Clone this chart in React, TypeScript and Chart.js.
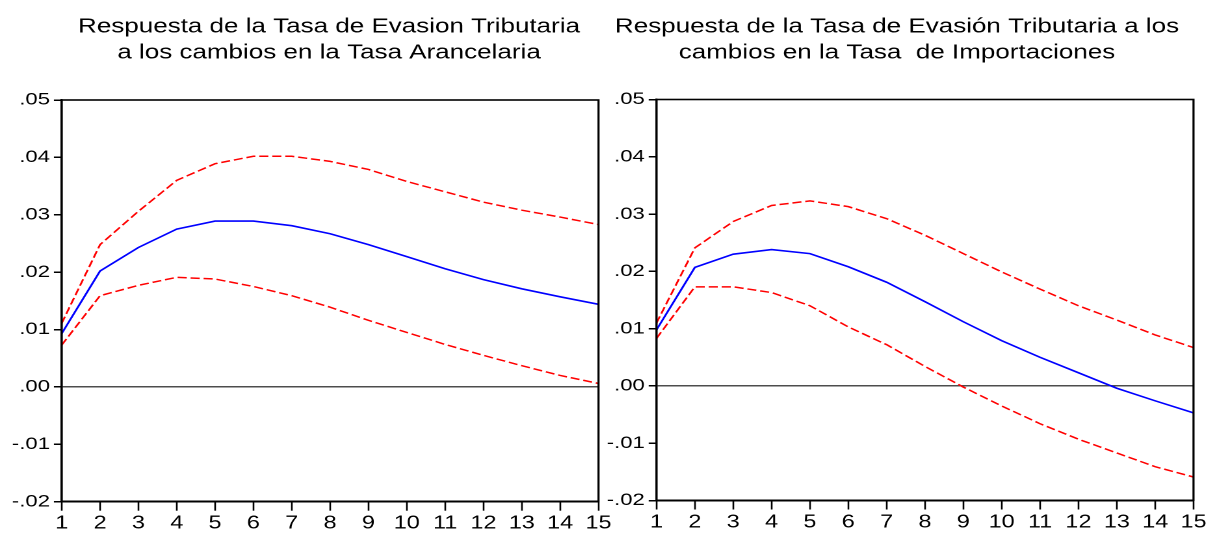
import React, { useEffect, useRef } from 'react';
import { Chart, registerables } from 'chart.js';

Chart.register(...registerables);

// Horizon (periods after the shock)
const periods = ['1', '2', '3', '4', '5', '6', '7', '8', '9', '10', '11', '12', '13', '14', '15'];

// Value axis range shared by both panels
const yMin = -0.02;
const yMax = 0.05;
const yStep = 0.01;

// Panel 1: shock to the tariff rate
const tariffTitle = ['Respuesta de la Tasa de Evasion Tributaria', 'a los cambios en la Tasa Arancelaria'];
const tariffResponse = [0.0093, 0.0202, 0.0243, 0.0275, 0.0289, 0.0289, 0.0281, 0.0267, 0.0248, 0.0227, 0.0206, 0.0187, 0.0171, 0.0157, 0.0144];
const tariffUpper = [0.0111, 0.0248, 0.0306, 0.036, 0.0389, 0.0402, 0.0402, 0.0393, 0.0379, 0.0358, 0.034, 0.0322, 0.0308, 0.0296, 0.0283];
const tariffLower = [0.0073, 0.0159, 0.0177, 0.0191, 0.0188, 0.0175, 0.0159, 0.0139, 0.0116, 0.0095, 0.0074, 0.0055, 0.0037, 0.002, 0.0006];

// Panel 2: shock to the import rate
const importsTitle = ['Respuesta de la Tasa de Evasión Tributaria a los', 'cambios en la Tasa  de Importaciones'];
const importsResponse = [0.0098, 0.0207, 0.023, 0.0238, 0.0231, 0.0208, 0.0181, 0.0147, 0.0112, 0.0079, 0.005, 0.0023, -0.0004, -0.0026, -0.0047];
const importsUpper = [0.011, 0.0241, 0.0287, 0.0315, 0.0323, 0.0313, 0.0292, 0.0263, 0.0231, 0.0199, 0.0169, 0.014, 0.0115, 0.0089, 0.0067];
const importsLower = [0.0083, 0.0173, 0.0173, 0.0163, 0.014, 0.0103, 0.0072, 0.0034, -0.0002, -0.0035, -0.0066, -0.0093, -0.0117, -0.0141, -0.0159];

// The whole graphic is drawn horizontally widened, like the exported figure
const STRETCH = 1.3;
const HEIGHT = 533;
const FONT = '"Liberation Sans", Arial, Helvetica, sans-serif';

function formatTick(v: number): string {
  const n = Math.round(v * 100);
  const body = '.' + String(Math.abs(n)).padStart(2, '0');
  return n < 0 ? '-' + body : body;
}

type Area = { left: number; right: number; top: number; bottom: number };

type PanelProps = {
  title: string[];
  response: number[];
  upper: number[];
  lower: number[];
  pageLeft: number;
  width: number;
  area: Area;
  titleX: number;
};

function Panel({ title, response, upper, lower, pageLeft, width, area, titleX }: PanelProps) {
  const canvasRef = useRef<HTMLCanvasElement | null>(null);

  useEffect(() => {
    const canvas = canvasRef.current;
    if (!canvas) return;

    const framePlugin = {
      id: 'frame',
      afterDraw(chart: any) {
        const { ctx, chartArea } = chart;
        ctx.save();
        ctx.strokeStyle = '#000';
        ctx.lineWidth = 1.6;
        ctx.strokeRect(chartArea.left, chartArea.top, chartArea.right - chartArea.left, chartArea.bottom - chartArea.top);
        ctx.restore();
      },
    };

    const headingPlugin = {
      id: 'heading',
      afterDraw(chart: any) {
        const { ctx } = chart;
        ctx.save();
        ctx.fillStyle = '#000';
        ctx.font = `20px ${FONT}`;
        ctx.textAlign = 'center';
        ctx.textBaseline = 'alphabetic';
        title.forEach((line, i) => ctx.fillText(line, titleX, 32.5 + i * 26));
        ctx.restore();
      },
    };

    const chart = new Chart(canvas, {
      type: 'line',
      data: {
        labels: periods,
        datasets: [
          {
            data: upper,
            borderColor: '#ff0000',
            borderWidth: 1.5,
            borderDash: [7, 3],
            pointRadius: 0,
            tension: 0,
            fill: false,
          },
          {
            data: lower,
            borderColor: '#ff0000',
            borderWidth: 1.5,
            borderDash: [7, 3],
            pointRadius: 0,
            tension: 0,
            fill: false,
          },
          {
            data: response,
            borderColor: '#0000ff',
            borderWidth: 1.6,
            pointRadius: 0,
            tension: 0,
            fill: false,
          },
        ],
      },
      options: {
        animation: false,
        responsive: false,
        devicePixelRatio: 2,
        layout: {
          padding: { top: area.top, right: width - area.right, bottom: 0, left: 0 },
        },
        plugins: {
          legend: { display: false },
          title: { display: false },
          tooltip: { enabled: false },
        },
        scales: {
          x: {
            type: 'category',
            offset: false,
            border: { display: true, color: '#000', width: 2 },
            grid: {
              drawOnChartArea: false,
              drawTicks: true,
              tickLength: 9,
              tickColor: '#000',
              tickWidth: 1.3,
            },
            ticks: {
              color: '#000',
              font: { family: FONT, size: 18 },
              padding: 2,
              maxRotation: 0,
              autoSkip: false,
            },
            afterFit(scale: any) {
              scale.height = HEIGHT - area.bottom;
              scale.paddingLeft = 0;
              scale.paddingRight = 0;
            },
          },
          y: {
            min: yMin,
            max: yMax,
            border: { display: true, color: '#000', width: 1.6 },
            grid: {
              drawOnChartArea: true,
              drawTicks: true,
              tickLength: 6,
              tickColor: '#000',
              tickWidth: 1.5,
              lineWidth: 1.5,
              color: (ctx: any) =>
                ctx.tick && Math.abs(ctx.tick.value) < 1e-9 ? '#4d4d4d' : 'rgba(0,0,0,0)',
            },
            ticks: {
              stepSize: yStep,
              color: '#000',
              font: { family: FONT, size: 17 },
              padding: 3,
              callback: (v: any) => formatTick(Number(v)),
            },
            afterFit(scale: any) {
              scale.width = area.left;
              scale.paddingTop = 0;
              scale.paddingBottom = 0;
            },
          },
        },
      },
      plugins: [framePlugin, headingPlugin],
    } as any);

    return () => chart.destroy();
  }, [title, response, upper, lower, width, area, titleX]);

  return (
    <div
      style={{
        position: 'absolute',
        left: pageLeft,
        top: 0,
        width,
        height: HEIGHT,
        transform: `scaleX(${STRETCH})`,
        transformOrigin: '0 0',
      }}
    >
      <canvas ref={canvasRef} width={width} height={HEIGHT} />
    </div>
  );
}

const tariffArea: Area = { left: 61.7 / STRETCH, right: 598.5 / STRETCH, top: 100, bottom: 501.7 };
const importsArea: Area = { left: (656.5 - 604) / STRETCH, right: (1193.5 - 604) / STRETCH, top: 99.5, bottom: 500.5 };

export default function App() {
  return (
    <div style={{ position: 'absolute', left: 0, top: 0, width: 1224, height: HEIGHT, background: '#fff', overflow: 'hidden' }}>
      <Panel
        title={tariffTitle}
        response={tariffResponse}
        upper={tariffUpper}
        lower={tariffLower}
        pageLeft={0}
        width={472}
        area={tariffArea}
        titleX={329 / STRETCH}
      />
      <Panel
        title={importsTitle}
        response={importsResponse}
        upper={importsUpper}
        lower={importsLower}
        pageLeft={604}
        width={476}
        area={importsArea}
        titleX={(897 - 604) / STRETCH}
      />
    </div>
  );
}
